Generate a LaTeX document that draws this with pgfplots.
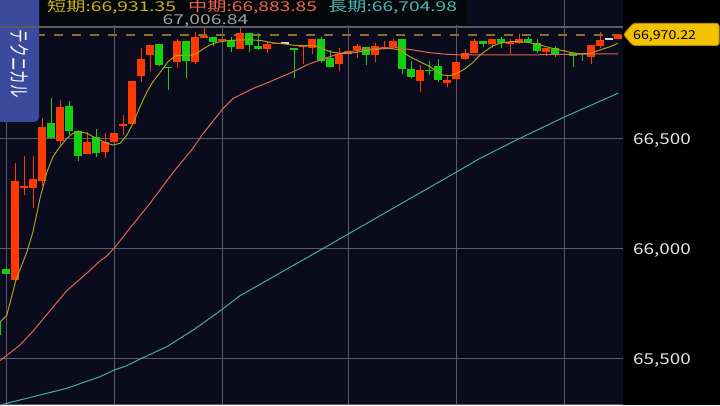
\documentclass[border=0pt]{standalone}
\usepackage{fontspec}
\setmainfont{Noto Sans CJK JP}
\usepackage{pgfplots}
\usepackage{pgfplotstable}
\pgfplotsset{compat=1.18}
\definecolor{bgnavy}{HTML}{0A0C1D}
\definecolor{gridc}{HTML}{5C5C60}
\definecolor{cred}{HTML}{FF3A00}
\definecolor{cgreen}{HTML}{10D010}
\definecolor{cwhite}{HTML}{D8D8D8}
\definecolor{cshort}{HTML}{B0A020}
\definecolor{cmid}{HTML}{E0684E}
\definecolor{clong}{HTML}{4AAAAA}
\definecolor{dashc}{HTML}{86702A}
\definecolor{tabc}{HTML}{3B4A9C}
\definecolor{tagc}{HTML}{F2C200}
\definecolor{tagd}{HTML}{B88E00}
\definecolor{hdrc}{HTML}{050609}
\definecolor{lshort}{HTML}{C8B420}
\definecolor{lmid}{HTML}{F06848}
\definecolor{llong}{HTML}{48B8B8}

\pgfplotstableread{
n O H L C
2 65855.5 66385.9 65853 66305.5
3 66275 66419.1 66241.8 66281.4
4 66275 66419.1 66184.1 66315.9
5 66305.5 66590.5 66284.1 66552.3
7 66488.6 66672.3 66469.1 66641.8
10 66429.6 66526.8 66429.6 66482.7
12 66437.3 66522.3 66411.4 66482.7
13 66481.4 66523.6 66481.4 66523.6
14 66554.1 66605.5 66514.6 66564.6
15 66563.2 66760 66562 66760
16 66782.7 66908.7 66754.1 66860
17 66878.2 66923.7 66806.8 66923.7
20 66847.7 66950.9 66820.5 66941.8
22 66845 66981.4 66838.7 66958.7
23 66955.5 67006.84 66954 66963.2
25 66943.2 66950.9 66943.2 66950.9
27 66905.5 66999.6 66905.5 66978.2
30 66905.5 66938.7 66887.3 66928.2
31 66928.2 66934.1 66928.2 66934.1
34 66916.8 66923.7 66835.9 66923.7
35 66911.4 66950.9 66884.1 66950.9
38 66837.3 66911.4 66806.8 66881.4
39 66881.4 66896.4 66881.4 66896.4
40 66902.3 66928.2 66863.2 66917.7
42 66878.2 66931.4 66845 66917.7
43 66910 66941.8 66910 66914.6
44 66914.6 66949.6 66913 66941.8
47 66760 66832.7 66711.4 66808.7
50 66750.9 66787.3 66734.1 66765.9
51 66769.1 66845 66769.1 66845
52 66858.7 66905.5 66855.5 66887.3
53 66887.3 66950.9 66886 66941.8
55 66929.6 66949.6 66908.7 66949.6
57 66928.2 66950.9 66881.4 66935.9
58 66934.1 66973.7 66926.8 66949.6
61 66890.5 66910 66873.7 66910
63 66878.2 66884.1 66878.2 66884.1
66 66870.5 66923.7 66837.3 66923.7
67 66920.5 66982.7 66908.7 66946.4
69 66950.9 66970.22 66950.9 66970.22
}\redc

\pgfplotstableread{
n O H L C
0 65664 65666 65600 65605
1 65904.1 65906 65882 65884.1
6 66569.1 66684.1 66499.5 66500.9
8 66646.4 66669.1 66514.6 66532.7
9 66532.7 66535.9 66396.4 66420.5
11 66505.5 66541.8 66415.9 66434.1
18 66928.2 66928.2 66826.8 66832.7
19 66823.7 66823.7 66719.1 66819.1
21 66941.8 66941.8 66775 66850.9
24 66958.7 66960 66920.5 66938.7
26 66946.4 66960 66890.5 66915.9
28 66978.2 66978.2 66890.5 66923.7
29 66917.7 66978.2 66899.6 66905.5
33 66910 66910 66775 66901
36 66949.6 66960 66843.2 66850.9
37 66864.6 66900.9 66825 66825
41 66914.6 66914.6 66831.4 66876.8
45 66949.6 66949.6 66793.2 66813.2
46 66815.9 66852.3 66772.3 66776.8
48 66811.4 66850.9 66787.3 66805.5
49 66826.8 66858.7 66754.1 66764.6
54 66941.8 66941.8 66914.6 66929.6
56 66949.6 66958.7 66908.7 66932.7
59 66949.6 66958.7 66938.7 66938.7
60 66931.4 66950.9 66887.3 66896.4
62 66908.7 66917.7 66869.1 66881.4
64 66887.3 66887.3 66823.7 66875
65 66887.3 66887.3 66850.9 66882.7
}\greenc

\pgfplotstableread{
n O H L C
32 66932.8 66932.8 66932.8 66932.8
68 66950.9 66950.9 66950.9 66950.9
}\dojic

\pgfplotstableread{
n v
0.33 65664.5
1.08 65694.1
2.11 65855.5
3.33 65984.1
4.00 66075
4.78 66226.8
5.56 66347.7
6.22 66415.9
7.00 66461.4
7.78 66499.5
8.44 66522.3
9.11 66529.5
10.00 66522.3
10.67 66506.8
11.44 66491.8
12.22 66476.8
12.89 66469.1
13.67 66476.8
14.44 66514.6
15.11 66567.7
15.89 66643.2
16.67 66711.4
17.33 66756.8
18.33 66810
19.00 66847.7
19.78 66873.7
20.33 66876.8
21.67 66878.2
22.22 66885.9
22.89 66905.5
23.67 66923.7
24.44 66935.9
25.56 66943.2
26.67 66946.4
28.11 66947.7
29.44 66943.2
30.56 66934.1
32.00 66928.2
33.33 66920.5
34.44 66920.5
35.33 66921
35.89 66912
37.00 66893.2
38.11 66885.9
39.22 66885.9
40.33 66893.2
41.44 66900.9
42.56 66905.5
43.67 66908.7
44.78 66900.9
45.56 66878.2
46.22 66863.2
47.00 66847.7
48.11 66825
48.89 66802.3
49.56 66787.3
50.33 66784.1
51.11 66795
51.78 66810
52.78 66840.5
53.67 66878.2
54.44 66900.9
55.11 66920.5
55.89 66931.4
57.00 66938.7
58.11 66938.7
59.22 66934.1
60.33 66923.7
61.44 66911.4
62.56 66900.9
63.67 66890.5
64.78 66882.7
65.89 66885.9
67.00 66900.9
68.11 66915.9
69.00 66931.35
}\mashort

\pgfplotstableread{
n v
0.33 65488.6
2.56 65560
4.03 65624.6
7.74 65806.4
9.96 65885.9
11.44 65941.8
12.19 65964.6
13.03 66000.9
15.14 66110
17.00 66204.1
18.86 66305.5
19.78 66355.5
21.63 66446.4
22.92 66522.3
25.14 66635.9
26.26 66681.4
28.48 66726.8
30.33 66756.8
32.92 66802.3
34.41 66832.7
35.89 66855.5
38.11 66885.9
40.33 66900.9
42.56 66908.7
44.41 66911.4
46.26 66900.9
48.11 66888.7
49.96 66881.4
51.81 66878.2
58.11 66878.2
62.56 66880.5
67.00 66883
69.00 66883.85
}\mamid

\pgfplotstableread{
n v
0.33 65287.3
1.08 65295
4.03 65325
7.74 65363.2
11.44 65415.9
13.03 65446.4
14.41 65465.9
16.07 65499.5
18.86 65552.3
21.81 65628.2
25.03 65722.3
27.00 65784.1
36.33 66000.9
44.00 66181.4
51.44 66355.5
53.67 66408.6
58.11 66499.6
63.11 66597.7
69.03 66704.98
}\malong

\begin{document}
\begin{tikzpicture}[x=1pt,y=1pt]
\path[use as bounding box] (0,0) rectangle (720,405);
\fill[black] (0,0) rectangle (720,405);
\begin{axis}[
  at={(0pt,0pt)}, anchor=south west,
  scale only axis, width=623pt, height=405pt,
  xmin=0.3333, xmax=69.5556, ymin=65287.3, ymax=67128.2,
  axis background/.style={fill=bgnavy},
  axis line style={draw=none},
  xtick={1,13,25,39,51,63}, ytick={65500,66000,66500},
  xticklabels={}, yticklabels={},
  major tick length=0pt,
  grid=major, grid style={gridc, line width=1pt},
]
\draw[dashc, line width=2pt, dash pattern=on 9pt off 9pt] (axis cs:0.3333,66970.22) -- (axis cs:69.5556,66970.22);
% wicks
\addplot[cred, line width=1pt, quiver={u=0, v=\thisrow{H}-\thisrow{L}}] table[x=n, y=L] {\redc};
\addplot[cgreen, line width=1pt, quiver={u=0, v=\thisrow{H}-\thisrow{L}}] table[x=n, y=L] {\greenc};
% bodies
\addplot[cred, line width=8pt, quiver={u=0, v=\thisrow{C}-\thisrow{O}}] table[x=n, y=O] {\redc};
\addplot[cgreen, line width=8pt, quiver={u=0, v=\thisrow{C}-\thisrow{O}}] table[x=n, y=O] {\greenc};
\addplot[cwhite, line width=8pt, quiver={u=0, v=6}] table[x=n, y expr=\thisrow{O}-3] {\dojic};
% moving averages
\addplot[cshort, line width=1pt] table[x=n, y=v] {\mashort};
\addplot[cmid, line width=1pt] table[x=n, y=v] {\mamid};
\addplot[clong, line width=1pt] table[x=n, y=v] {\malong};
\end{axis}
% header
\fill[hdrc] (40,405) rectangle (467,380);
\node[anchor=base west, inner sep=0, text=lshort, font=\fontsize{13.5}{13.5}\selectfont] at (47,393.5) {\scalebox{1.42}[1]{短期:66,931.35}};
\node[anchor=base west, inner sep=0, text=lmid, font=\fontsize{13.5}{13.5}\selectfont] at (188,393.5) {\scalebox{1.42}[1]{中期:66,883.85}};
\node[anchor=base west, inner sep=0, text=llong, font=\fontsize{13.5}{13.5}\selectfont] at (328,393.5) {\scalebox{1.42}[1]{長期:66,704.98}};
\node[anchor=base, inner sep=0, text=gray!75, font=\fontsize{13.6}{13.6}\selectfont] at (205.5,380) {\scalebox{1.42}[1]{67,006.84}};
% tab
\fill[tabc, rounded corners=5pt] (-10,415) rectangle (39,283);
\node[text=white, inner sep=0, font=\fontsize{13.6}{13.6}\selectfont] at (20,341) {\scalebox{1.55}[1]{\rotatebox{-90}{テクニカル}}};
\draw[color=gridc, line width=1.5pt] (0,378) -- (623,378);
\draw[color=gridc, line width=1pt] (0,1) -- (623,1);
% price tag
\filldraw[fill=tagc, draw=tagd, line width=1pt, rounded corners=2.5pt] (623.5,370.5) -- (633,381.5) -- (719,381.5) -- (719,359.5) -- (633,359.5) -- cycle;
\node[anchor=base west, inner sep=0, text=black, font=\fontsize{12.3}{12.3}\selectfont] at (633,365.5) {\scalebox{1.15}[1]{66,970.22}};
% right axis labels
\node[anchor=base west, inner sep=0, text=white!90!black, font=\fontsize{15}{15}\selectfont] at (633,261) {\scalebox{1.26}[1]{66,500}};
\node[anchor=base west, inner sep=0, text=white!90!black, font=\fontsize{15}{15}\selectfont] at (633,151) {\scalebox{1.26}[1]{66,000}};
\node[anchor=base west, inner sep=0, text=white!90!black, font=\fontsize{15}{15}\selectfont] at (633,41) {\scalebox{1.26}[1]{65,500}};
\end{tikzpicture}
\end{document}
